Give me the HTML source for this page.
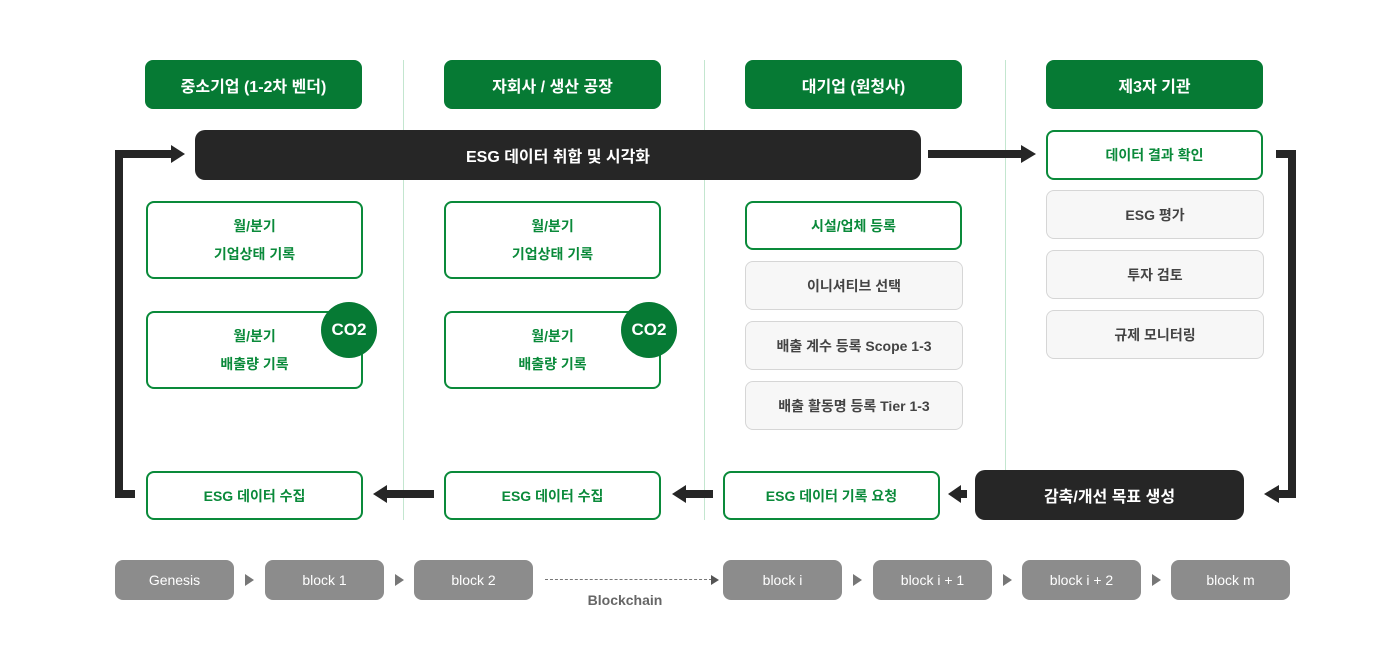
<!DOCTYPE html>
<html><head><meta charset="utf-8"><style>
body{margin:0;width:1400px;height:660px;background:#fff;position:relative;overflow:hidden;font-family:"Liberation Sans","Noto Sans CJK KR",sans-serif;font-weight:bold}
.a{position:absolute;box-sizing:border-box;display:flex;align-items:center;justify-content:center;text-align:center}
.h{background:#067a34;color:#fff;border-radius:8px;font-size:16px;height:49px;width:217px;top:60px}
.g{border:2px solid #0a8a3a;border-radius:8px;color:#0a8a3a;font-size:14px;width:217px;background:#fff;line-height:28px}
.y{border:1px solid #d6d6d6;background:#f7f7f7;border-radius:8px;color:#444;font-size:14px;width:218px;height:49px}
.k{background:#262626;color:#fff;border-radius:10px;font-size:16px}
.v{position:absolute;width:1px;background:#c3e6cf;top:60px;height:460px}
.b{position:absolute;background:#262626}
.bl{background:#8c8c8c;color:#fff;border-radius:8px;font-size:14px;font-weight:normal;width:119px;height:40px;top:560px}
.t{position:absolute;width:0;height:0;border-top:6px solid transparent;border-bottom:6px solid transparent;border-left:9px solid #777;top:574px}
.co{position:absolute;width:56px;height:56px;border-radius:50%;background:#067a34;color:#fff;font-size:17px;display:flex;align-items:center;justify-content:center}
</style></head><body>
<div class="v" style="left:403px"></div><div class="v" style="left:704px"></div><div class="v" style="left:1005px"></div>
<div class="a h" style="left:145px">중소기업 (1-2차 벤더)</div>
<div class="a h" style="left:444px">자회사 / 생산 공장</div>
<div class="a h" style="left:745px">대기업 (원청사)</div>
<div class="a h" style="left:1046px">제3자 기관</div>
<div class="a k" style="left:195px;top:130px;width:726px;height:50px">ESG 데이터 취합 및 시각화</div>
<!-- left loop -->
<div class="b" style="left:115px;top:150px;width:8px;height:348px"></div>
<div class="b" style="left:115px;top:150px;width:58px;height:8px"></div>
<div class="t" style="top:145px;left:171px;border-left:14px solid #262626;border-top:9px solid transparent;border-bottom:9px solid transparent"></div>
<div class="b" style="left:115px;top:490px;width:20px;height:8px"></div>
<!-- right -->
<div class="b" style="left:928px;top:150px;width:94px;height:8px"></div>
<div class="t" style="top:145px;left:1021px;border-left:15px solid #262626;border-top:9px solid transparent;border-bottom:9px solid transparent"></div>
<div class="b" style="left:1276px;top:150px;width:20px;height:8px"></div>
<div class="b" style="left:1288px;top:150px;width:8px;height:348px"></div>
<div class="b" style="left:1278px;top:490px;width:18px;height:8px"></div>
<div class="t" style="top:485px;left:1264px;border-left:0;border-right:15px solid #262626;border-top:9px solid transparent;border-bottom:9px solid transparent"></div>
<!-- col1 -->
<div class="a g" style="left:146px;top:201px;height:78px">월/분기<br>기업상태 기록</div>
<div class="a g" style="left:146px;top:311px;height:78px">월/분기<br>배출량 기록</div>
<div class="co" style="left:321px;top:302px">CO2</div>
<div class="a g" style="left:444px;top:201px;height:78px">월/분기<br>기업상태 기록</div>
<div class="a g" style="left:444px;top:311px;height:78px">월/분기<br>배출량 기록</div>
<div class="co" style="left:621px;top:302px">CO2</div>
<div class="a g" style="left:745px;top:201px;height:49px">시설/업체 등록</div>
<div class="a y" style="left:745px;top:261px">이니셔티브 선택</div>
<div class="a y" style="left:745px;top:321px">배출 계수 등록 Scope 1-3</div>
<div class="a y" style="left:745px;top:381px">배출 활동명 등록 Tier 1-3</div>
<div class="a g" style="left:1046px;top:130px;height:50px">데이터 결과 확인</div>
<div class="a y" style="left:1046px;top:190px">ESG 평가</div>
<div class="a y" style="left:1046px;top:250px">투자 검토</div>
<div class="a y" style="left:1046px;top:310px">규제 모니터링</div>
<!-- bottom row -->
<div class="a g" style="left:146px;top:471px;height:49px">ESG 데이터 수집</div>
<div class="a g" style="left:444px;top:471px;height:49px">ESG 데이터 수집</div>
<div class="a g" style="left:723px;top:471px;height:49px">ESG 데이터 기록 요청</div>
<div class="a k" style="left:975px;top:470px;width:269px;height:50px">감축/개선 목표 생성</div>
<div class="b" style="left:386px;top:490px;width:48px;height:8px"></div>
<div class="t" style="top:485px;left:373px;border-left:0;border-right:14px solid #262626;border-top:9px solid transparent;border-bottom:9px solid transparent"></div>
<div class="b" style="left:685px;top:490px;width:28px;height:8px"></div>
<div class="t" style="top:485px;left:672px;border-left:0;border-right:14px solid #262626;border-top:9px solid transparent;border-bottom:9px solid transparent"></div>
<div class="b" style="left:960px;top:490px;width:7px;height:8px"></div>
<div class="t" style="top:485px;left:948px;border-left:0;border-right:13px solid #262626;border-top:9px solid transparent;border-bottom:9px solid transparent"></div>
<!-- blockchain -->
<div class="a bl" style="left:115px">Genesis</div>
<div class="a bl" style="left:265px">block 1</div>
<div class="a bl" style="left:414px">block 2</div>
<div class="a bl" style="left:723px">block i</div>
<div class="a bl" style="left:873px">block i + 1</div>
<div class="a bl" style="left:1022px">block i + 2</div>
<div class="a bl" style="left:1171px">block m</div>
<div class="t" style="left:245px"></div><div class="t" style="left:395px"></div>
<div class="t" style="left:853px"></div><div class="t" style="left:1003px"></div><div class="t" style="left:1152px"></div>
<div style="position:absolute;left:545px;top:579px;width:167px;border-top:1px dashed #777"></div>
<div class="t" style="left:711px;top:575px;border-top-width:5px;border-bottom-width:5px;border-left-width:8px;border-left-color:#555"></div>
<div style="position:absolute;left:545px;width:160px;top:592px;text-align:center;color:#666;font-size:14px">Blockchain</div>
</body></html>
